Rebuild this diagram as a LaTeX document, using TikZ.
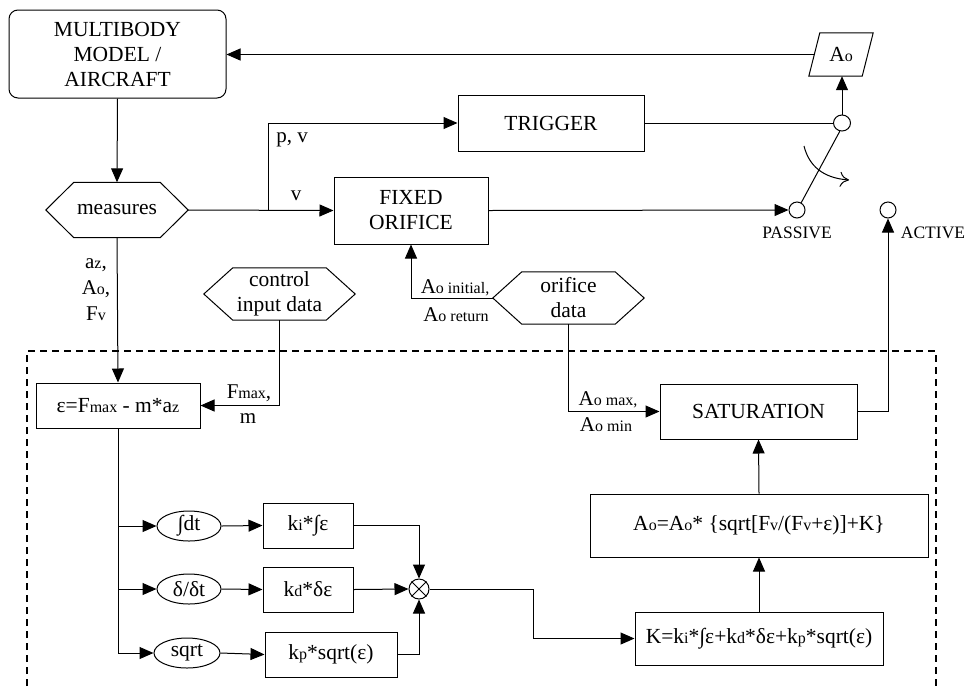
\documentclass[tikz,border=0pt]{standalone}
\usepackage{fontspec}
\setmainfont{Liberation Serif}
\usetikzlibrary{arrows.meta,shapes.geometric,calc}
\newcommand\sm[1]{{\fontsize{16}{16}\selectfont #1}}
\newcommand\hexdraw[2]{\draw[line width=1pt] (#1.west) -- ([xshift=#2]#1.north west) -- ([xshift=-#2]#1.north east) -- (#1.east) -- ([xshift=-#2]#1.south east) -- ([xshift=#2]#1.south west) -- cycle;}
\begin{document}
\begin{tikzpicture}[x=1pt,y=-1pt,
  every node/.style={font=\fontsize{21.5}{25}\selectfont, inner sep=0pt},
  box/.style={draw, line width=1pt, rectangle, align=center},
  hexn/.style={align=center},
  ell/.style={draw, line width=1pt, ellipse},
  knob/.style={draw, line width=1pt, circle, minimum size=16pt},
  lbl/.style={font=\fontsize{21}{24}\selectfont, align=center},
  conn/.style={line width=1pt},
  arr/.style={line width=1pt, -{Triangle[length=14pt,width=12pt]}},
]
\useasboundingbox (0,0) rectangle (965,686);

% nodes
\node[box, rounded corners=9pt, minimum width=217pt, minimum height=88pt] (mb) at (117.5,54) {MULTIBODY\\MODEL /\\AIRCRAFT};
\node[hexn, minimum width=142pt, minimum height=55pt] (meas) at (117,210) {measures};
\hexdraw{meas}{28pt}
\node[box, minimum width=186pt, minimum height=56pt] (trig) at (551,123) {TRIGGER};
\node[box, minimum width=154pt, minimum height=67pt] (fix) at (411,210.5) {FIXED\\ORIFICE};
\node[minimum width=64pt, minimum height=43pt] (ao) at (841,54.5) {A\sm{o}};
\draw[line width=1pt] (ao.south west) -- ([xshift=11pt]ao.north west) -- (ao.north east) -- ([xshift=-11pt]ao.south east) -- cycle;
\coordinate (aoin) at ([xshift=5.5pt]ao.west);
\node[knob, minimum width=17pt, minimum height=16pt, ellipse] (sw) at (842,123) {};
\node[knob] (pas) at (797,210) {};
\node[knob] (act) at (888,210) {};
\node[font=\fontsize{17.5}{20}\selectfont] (pasl) at (797,233) {PASSIVE};
\node[font=\fontsize{17.5}{20}\selectfont] (actl) at (933,233) {ACTIVE};

\node[hexn, minimum width=151pt, minimum height=52pt] (ctrl) at (279.5,294) {control\\input data};
\hexdraw{ctrl}{29pt}
\node[hexn, minimum width=151pt, minimum height=52pt] (orf) at (568.5,298) {orifice\\data};
\hexdraw{orf}{29pt}

\node[box, minimum width=164pt, minimum height=45pt] (eps) at (118,405.5) {ε=F\sm{max} - m*a\sm{z}};
\node[box, minimum width=197pt, minimum height=55pt] (sat) at (758.5,411.5) {SATURATION};
\node[box, minimum width=338pt, minimum height=63pt] (aoeq) at (759,525.5) {A\sm{o}=A\sm{o}* \{sqrt[F\sm{v}/(F\sm{v}+ε)]+K\}};
\node[box, minimum width=248pt, minimum height=53pt] (kb) at (759,638.5) {K=k\sm{i}*∫ε+k\sm{d}*δε+k\sm{p}*sqrt(ε)};

\node[ell, minimum width=64pt, minimum height=30pt] (e1) at (189,526) {∫dt};
\node[ell, minimum width=64pt, minimum height=30pt] (e2) at (189,589) {δ/δt};
\node[ell, minimum width=66pt, minimum height=30pt] (e3) at (187,653) {sqrt};
\node[box, minimum width=90pt, minimum height=45pt] (kib) at (308,525.5) {k\sm{i}*∫ε};
\node[box, minimum width=90pt, minimum height=45pt] (kdb) at (308,589.5) {k\sm{d}*δε};
\node[box, minimum width=132pt, minimum height=45pt] (kpb) at (331,654.5) {k\sm{p}*sqrt(ε)};
\node[draw, line width=1pt, circle, minimum size=20pt] (ot) at (419,589) {};
\draw[line width=1pt] (ot.north west) -- (ot.south east) (ot.north east) -- (ot.south west);

% labels
\node[lbl] (lpv) at (292,140) {p, v};
\node[lbl] (lv) at (296,196) {v};
\node[lbl] (la1) at (96,265) {a\sm{z},};
\node[lbl] (la2) at (96,289) {A\sm{o},};
\node[lbl] (la3) at (96,314) {F\sm{v}};
\node[lbl] (lf1) at (249,393) {F\sm{max},};
\node[lbl] (lf2) at (248,419) {m};
\node[lbl] (lo1) at (455,288) {A\sm{o initial,}};
\node[lbl] (lo2) at (456,315) {A\sm{o return}};
\node[lbl] (lm1) at (608,400) {A\sm{o max,}};
\node[lbl] (lm2) at (606,425) {A\sm{o min}};

% connectors
\draw[arr] (aoin) -- (mb.east |- aoin);
\draw[arr] (mb.south) -- (meas.north);
\draw[arr] (meas.east) -- (fix.west);
\coordinate (br) at (268,210);
\draw[arr] (br) |- (trig.west);
\draw[conn] (trig.east) -- (sw.west);
\draw[arr] (sw.north) -- (sw.north |- ao.south);
\draw[conn] (sw.-105) -- (pas.60);
\coordinate (c1) at (804,146);
\coordinate (c2) at (849,180);
\draw[conn, -{To[length=9pt,width=15pt]}] (c1) .. controls (809,166) and (823,178) .. (c2);
\draw[arr] (fix.east) -- (pas.west);
\draw[arr] (sat.east) -| (act.south);

\draw[arr] (meas.south) -- (eps.north);
\draw[arr] (ctrl.south) |- (eps.east);
\draw[arr] (orf.west) -| (fix.south);
\draw[arr] (orf.south) |- (sat.west);

\draw[arr] (eps.south) |- (e3.west);
\draw[arr] (eps.south |- e1.west) -- (e1.west);
\draw[arr] (eps.south |- e2.west) -- (e2.west);
\draw[arr] (e1.east) -- (kib.west);
\draw[arr] (e2.east) -- (kdb.west);
\draw[arr] (e3.east) -- (kpb.west);
\draw[arr] (kib.east) -| (ot.north);
\draw[arr] (kdb.east) -- (ot.west);
\draw[arr] (kpb.east) -| (ot.south);
\coordinate (jn) at (533,589);
\draw[arr] (ot.east) -- (jn) |- (kb.west);
\draw[arr] (kb.north) -- (aoeq.south);
\draw[arr] (aoeq.north) -- (sat.south);

% dashed region
\draw[line width=1.6pt, dash pattern=on 7pt off 5pt] (27,686) -- (27,351) -- (936,351) -- (936,686);
\end{tikzpicture}
\end{document}
